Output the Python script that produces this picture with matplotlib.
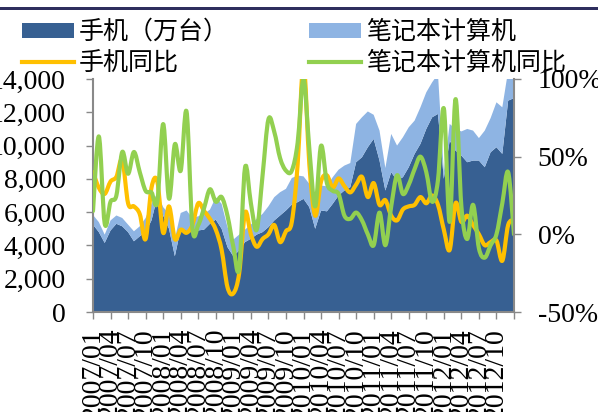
import numpy as np
import matplotlib
matplotlib.use('Agg')
import matplotlib.pyplot as plt
from matplotlib.path import Path
from matplotlib.patches import PathPatch, Patch
from matplotlib.lines import Line2D
from matplotlib.ticker import FuncFormatter

plt.rcParams['font.family'] = ['Liberation Serif', 'DejaVu Serif']

# 月度数据 2007/01 - 2013/01
phone = [5250, 4800, 4150, 4900, 5300, 5150, 4800, 4250, 4550, 4800,
         5500, 6900, 5800, 5000, 3350, 5000, 4900, 4800, 4900, 4950,
         5300, 5550, 5000, 3900, 3350, 3700, 4200, 4400, 4650, 4800,
         5100, 5500, 5800, 6100, 6450, 6600, 6800, 6300, 5000, 6100,
         6050, 6500, 7000, 7300, 7500, 9000, 9300, 9900, 10400, 9100,
         7300, 8400, 7900, 8100, 8700, 9500, 10100, 11000, 11700, 11900,
         8000, 10300, 9700, 9400, 9000, 9100, 9100, 8700, 9600, 9900,
         9500, 12700, 12850]

notebook = [580, 600, 500, 600, 500, 500, 450, 600, 600, 850,
            1000, 250, 500, 900, 1050, 950, 1200, 850, 850, 950,
            850, 1350, 1500, 1200, 1000, 950, 750, 850, 950, 1100,
            1250, 1400, 1400, 1300, 1600, 1600, 1350, 1400, 1700, 1500,
            1500, 1600, 1550, 1500, 1450, 2300, 2400, 2150, 1450, 1800,
            1350, 2300, 2100, 2400, 2400, 2000, 2200, 2200, 2100, 2400,
            400, 1000, 1300, 1450, 2000, 1800, 1350, 2200, 2050, 2700,
            2800, 1800, 1650]

phone_yoy = [40, 30, 26, 34, 37, 48, 20, 18, 13, -3,
             30, 34, 1, 18, -3, 3, 1, 6, 20, 15,
             10, 3, -10, -34, -38, -25, 14, 0, -8, -3,
             0, 6, -5, 2, 8, 45, 110, 45, 12, 34,
             38, 30, 36, 31, 27, 32, 37, 24, 33, 19,
             22, 12, 9, 16, 18, 19, 24, 20, 25, 19,
             3, -10, 20, 8, 12, 6, 0, -7, -5, -4,
             -17, 6, 9]

notebook_yoy = [15, 63, 7, 21, 25, 53, 39, 53, 40, 28,
                27, 21, 71, 23, 58, 41, 79, 4, 6, 17,
                29, 21, 24, 12, -8, -22, 43, 20, 3, 38,
                74, 66, 49, 41, 41, 59, 100, 55, 18, 57,
                33, 28, 26, 12, 10, 14, 9, 0, -7, 14,
                -7, 18, 38, 26, 32, 42, 50, 40, 21, 35,
                81, 8, 87, 18, -3, 19, -9, -15, -7, 0,
                20, 40, 0]

tick_labels = ['2007/01', '2007/04', '2007/07', '2007/10',
               '2008/01', '2008/04', '2008/07', '2008/10',
               '2009/01', '2009/04', '2009/07', '2009/10',
               '2010/01', '2010/04', '2010/07', '2010/10',
               '2011/01', '2011/04', '2011/07', '2011/10',
               '2012/01', '2012/04', '2012/07', '2012/10']

c_phone = '#376092'
c_nb = '#8EB4E3'
c_phone_yoy = '#FFC000'
c_nb_yoy = '#92D050'
grey = '#898989'


def smooth_path(x, y):
    # Excel风格平滑曲线 (Catmull-Rom -> Bezier)
    x = np.asarray(x, float)
    y = np.asarray(y, float)
    n = len(x)
    verts = [(x[0], y[0])]
    codes = [Path.MOVETO]
    for i in range(n - 1):
        j0 = max(i - 1, 0)
        j3 = min(i + 2, n - 1)
        c1 = (x[i] + (x[i + 1] - x[j0]) / 6, y[i] + (y[i + 1] - y[j0]) / 6)
        c2 = (x[i + 1] - (x[j3] - x[i]) / 6, y[i + 1] - (y[j3] - y[i]) / 6)
        verts += [c1, c2, (x[i + 1], y[i + 1])]
        codes += [Path.CURVE4] * 3
    return Path(verts, codes)


x = np.arange(len(phone))

fig = plt.figure(figsize=(5.98, 4.12), dpi=100)

# 顶部深色分隔线
band = fig.add_axes([0, 1 - 9.5 / 412, 1, 3 / 412])
band.set_facecolor('#2E2E5E')
band.set_xticks([])
band.set_yticks([])
for sp in band.spines.values():
    sp.set_visible(False)

ax = fig.add_axes([93 / 598, 1 - 312 / 412, 421 / 598, 233 / 412])

ax.stackplot(x, phone, notebook, colors=[c_phone, c_nb], linewidth=0)
ax.set_xlim(0, len(phone) - 1)
ax.set_ylim(0, 14000)
ax.set_yticks(range(0, 14001, 2000))
ax.yaxis.set_major_formatter(FuncFormatter(lambda v, p: f'{int(v):,}'))
ax.set_xticks(range(0, len(phone), 3))
ax.set_xticklabels(tick_labels + [''], rotation=90)
ax.tick_params(axis='y', direction='out', length=5, width=1, color=grey,
               pad=14.5, labelsize=20)
ax.tick_params(axis='x', direction='out', length=5, width=1, color=grey,
               pad=6.5, labelsize=20)
for s in ['top', 'right']:
    ax.spines[s].set_visible(False)
for s in ['left', 'bottom']:
    ax.spines[s].set_color(grey)
    ax.spines[s].set_linewidth(1.5)

ax2 = ax.twinx()
ax2.set_ylim(-50, 100)
ax2.set_yticks([-50, 0, 50, 100])
ax2.yaxis.set_major_formatter(FuncFormatter(lambda v, p: f'{int(v)}%'))
ax2.tick_params(axis='y', direction='out', length=5, width=1, color=grey,
                pad=12, labelsize=20)
for s in ['top', 'left', 'bottom']:
    ax2.spines[s].set_visible(False)
ax2.spines['right'].set_color(grey)
ax2.spines['right'].set_linewidth(1.5)

for vals, col in [(phone_yoy, c_phone_yoy), (notebook_yoy, c_nb_yoy)]:
    p = PathPatch(smooth_path(x, vals), facecolor='none', edgecolor=col,
                  linewidth=3, capstyle='round', joinstyle='round',
                  transform=ax2.transData)
    ax2.add_patch(p)

handles = [Patch(facecolor=c_phone, edgecolor='none'),
           Line2D([], [], color=c_phone_yoy, lw=3),
           Patch(facecolor=c_nb, edgecolor='none'),
           Line2D([], [], color=c_nb_yoy, lw=3)]
labels = ['手机（万台）', '手机同比', '笔记本计算机', '笔记本计算机同比']
fig.legend(handles, labels, loc='upper left',
           bbox_to_anchor=(22 / 598, 1 - 19 / 412), ncol=2, frameon=False,
           prop={'family': ['Noto Sans CJK SC', 'DejaVu Sans'], 'size': 18},
           handlelength=2.08, handleheight=0.55, handletextpad=0.2,
           columnspacing=3.2, borderpad=0, borderaxespad=0, labelspacing=0.2)

fig.savefig('out.png', dpi=100, facecolor='white')
